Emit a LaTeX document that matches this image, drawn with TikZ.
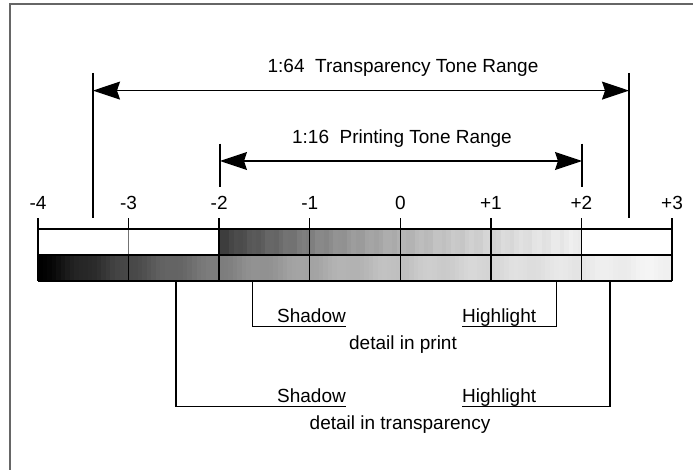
\documentclass[tikz,border=0pt]{standalone}
\usepackage{fontspec}
\setmainfont{Liberation Sans}
\usetikzlibrary{arrows.meta}

\tikzset{
    lbl/.style={font=\fontsize{19bp}{22bp}\selectfont, inner sep=0pt},
    dimline/.style={line width=1.2bp},
    gridline/.style={line width=1.3bp},
    dimarrow/.style={line width=1.2bp,
        {Stealth[length=27bp,width=18bp,inset=3bp]}-{Stealth[length=27bp,width=18bp,inset=3bp]}},
}

\begin{document}
\begin{tikzpicture}[x=1bp,y=-1bp]

        \useasboundingbox (0,0) rectangle (693,470);
        \draw[line width=2bp, black!60] (9.5,470) -- (9.5,4) -- (693,4);

        % bottom row: transparency tones
        \foreach \i in {0,...,139}{
            \pgfmathsetmacro\xa{38+\i*4.5286}
            \pgfmathsetmacro\dk{max(0,min(100,100*0.72^(\i/20)-6*\i/140+1.5*sin(mod(\i*37,360))))}
            \fill[black!\dk] (\xa,255) rectangle ++(4.6,26);
        }
        % top row: printing tones
        \foreach \i in {0,...,79}{
            \pgfmathsetmacro\xa{220+\i*4.5286}
            \pgfmathsetmacro\dk{max(0,min(100,76*0.68^(\i/20)-2.5*\i/20+1.5*sin(mod(\i*97,360))))}
            \fill[black!\dk] (\xa,229) rectangle ++(4.6,26);
        }

        % scale values
        \foreach \n/\lab [count=\i from 0] in {m4/-4,m3/-3,m2/-2,m1/-1,z0/0,p1/+1,p2/+2,p3/+3}{
            \coordinate (\n) at (38+\i*90.57,229);
            \node[lbl, anchor=base] (l\n) at (38+\i*90.57,209.5) {\lab};
            \draw[gridline] (\n) -- ++(0,-11);
            \draw[gridline] (\n) ++(0,26) -- ++(0,26);
        }
        \foreach \n in {m4,m2,m1,z0,p1,p2,p3}
            \draw[gridline] (\n) -- ++(0,26);
        \draw[gridline, black!55] (m3) -- ++(0,26);
        \draw[gridline] (m4) -- (p3);
        \draw[gridline] (38,255) -- (672,255);
        \draw[gridline] (38,281) -- (672,281);

        % tone ranges
        \node[lbl, anchor=base] (trange) at (403,73) {1:64\ \ Transparency Tone Range};
        \node[lbl, anchor=base] (prange) at (402,143.6) {1:16\ \ Printing Tone Range};

        \coordinate (trL) at (93,73);
        \coordinate (trR) at (629,73);
        \coordinate (trLa) at (93,90.6);
        \coordinate (trRa) at (629,90.6);
        \draw[dimline] (trL) -- (93,218);
        \draw[dimline] (trR) -- (629,218);
        \draw[dimarrow] (trLa) -- (trRa);

        \coordinate (prL) at (220,143.6);
        \coordinate (prR) at (582,143.6);
        \coordinate (prLa) at (220,161);
        \coordinate (prRa) at (582,161);
        \draw[dimline] (prL) -- (220,187);
        \draw[dimline] (prR) -- (582,187);
        \draw[dimarrow] (prLa) -- (prRa);

        % detail in print
        \node[lbl, anchor=base east] (pshadow) at (346,322.5) {Shadow};
        \node[lbl, anchor=base west] (phigh) at (462,322.5) {Highlight};
        \node[lbl, anchor=base] (pdetail) at (403,349) {detail in print};
        \draw[dimline] (252.7,281) -- (252.7,326.7) -- (346,326.7);
        \draw[dimline] (462,326.7) -- (556.7,326.7) -- (556.7,281);

        % detail in transparency
        \node[lbl, anchor=base east] (tshadow) at (346,402.5) {Shadow};
        \node[lbl, anchor=base west] (thigh) at (462,402.5) {Highlight};
        \node[lbl, anchor=base] (tdetail) at (400,429) {detail in transparency};
        \draw[dimline] (176,281) -- (176,406.7) -- (346,406.7);
        \draw[dimline] (462,406.7) -- (610,406.7) -- (610,281);

\end{tikzpicture}
\end{document}
